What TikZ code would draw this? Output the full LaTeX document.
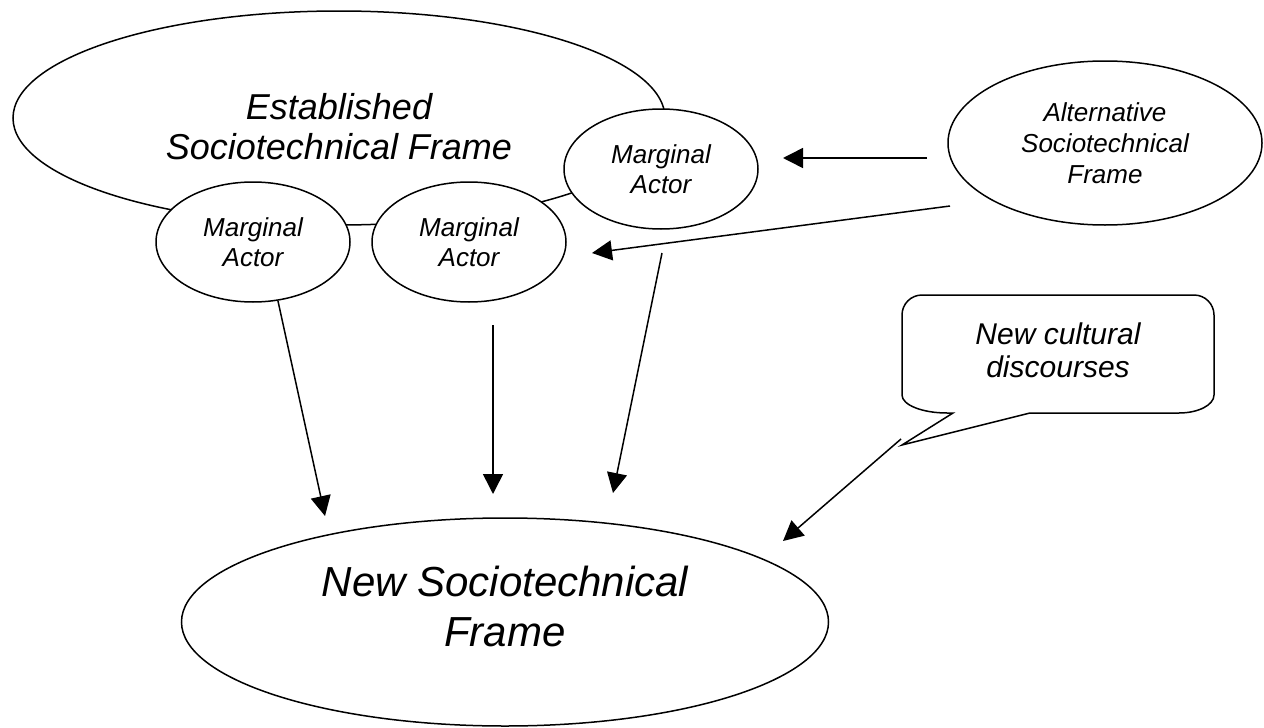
\documentclass[tikz,border=0pt]{standalone}
\usepackage{fontspec}
\setmainfont{Liberation Sans}
\usetikzlibrary{shapes.geometric,arrows.meta}

\begin{document}
\begin{tikzpicture}[x=0.5pt,y=-0.5pt]
	\tikzset{
		frame/.style={
			ellipse,
			draw,
			line width=0.75pt,
			fill=white,
			inner sep=0pt,
			align=center
		},
		actor/.style={
			frame,
			minimum width=97pt,
			minimum height=60pt,
			font=\fontsize{13}{15}\selectfont\itshape
		},
		arr/.style={
			-{Triangle[length=10pt,width=10pt]},
			line width=0.75pt
		},
		bubble/.style={line width=0.75pt}
	}
	\useasboundingbox (0,0) rectangle (1264,728);
	
	% ======= Established frame + marginal actors =======
	\node[frame, minimum width=326pt, minimum height=107pt,
		label={[font=\fontsize{18}{20}\selectfont\itshape, align=center, yshift=-4.5pt]center:{Established\\Sociotechnical Frame}}] (est) at (339,118) {};
	
	\node[actor] (ma1) at (253,242) {Marginal\\Actor};
	\node[actor] (ma2) at (469,242) {Marginal\\Actor};
	\node[actor] (ma3) at (661,169) {Marginal\\Actor};
	
	% ======= Alternative frame =======
	\node[frame, minimum width=157pt, minimum height=82pt,
		font=\fontsize{13}{15.5}\selectfont\itshape] (alt) at (1105,143) {Alternative\\Sociotechnical\\Frame};
	
	% ======= New frame =======
	\node[frame, minimum width=323.5pt, minimum height=104pt,
		label={[font=\fontsize{21}{25}\selectfont\itshape, align=center, yshift=8pt]center:{New Sociotechnical\\Frame}}] (newf) at (505,622) {};
	
	% ======= Callout =======
	\draw[bubble] (902,395) -- (902,315) arc[start angle=180, end angle=270, radius=20]
		-- (1194,295) arc[start angle=270, end angle=360, radius=20]
		-- (1214,395) arc[start angle=0, end angle=90, x radius=35, y radius=18]
		-- (1030,413) -- (902,445) -- (953,413) -- (947,413)
		arc[start angle=90, end angle=180, x radius=45, y radius=18] -- cycle;
	\node[font=\fontsize{15}{16.5}\selectfont\itshape, align=center] (callout) at (1058,350) {New cultural\\discourses};
	
	% ======= Arrows =======
	\coordinate (alt-w) at (927,158);
	\coordinate (ma3-e) at (783,158);
	\coordinate (alt-sw) at (950,206);
	\coordinate (ma2-e) at (592,253);
	\coordinate (ma2-s) at (493,325);
	\coordinate (ma3-s) at (662,253);
	\coordinate (callout-tip) at (901,439);
	\coordinate (newf-in1) at (325,516);
	\coordinate (newf-in2) at (493,494);
	\coordinate (newf-in3) at (613,493);
	\coordinate (newf-in4) at (783,541);
	
	\draw[arr] (alt-w) -- (ma3-e);
	\draw[arr] (alt-sw) -- (ma2-e);
	\draw[arr] (ma1.-67) -- (newf-in1);
	\draw[arr] (ma2-s) -- (newf-in2);
	\draw[arr] (ma3-s) -- (newf-in3);
	\draw[arr] (callout-tip) -- (newf-in4);
\end{tikzpicture}
\end{document}
